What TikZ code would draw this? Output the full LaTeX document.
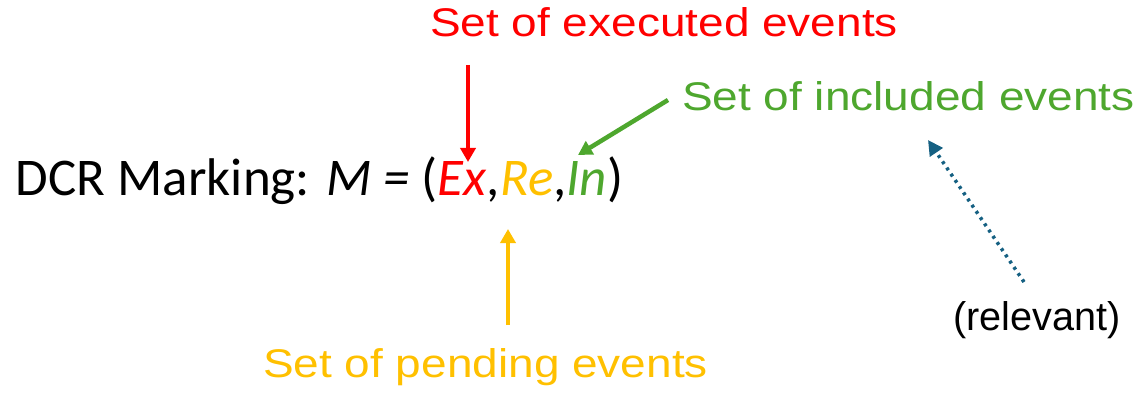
\documentclass[tikz,border=0pt]{standalone}
\usepackage{fontspec}
\setmainfont{Carlito}
\newfontfamily\lblfont[FakeStretch=1.15]{Liberation Sans}
\newfontfamily\relfont[FakeStretch=0.99]{Liberation Sans}
\usetikzlibrary{arrows.meta}
\definecolor{exred}{HTML}{FF0000}
\definecolor{reyel}{HTML}{FFC000}
\definecolor{ingreen}{HTML}{4EA72E}
\definecolor{relblue}{HTML}{156082}
\begin{document}
\begin{tikzpicture}[x=1pt,y=-1pt,
  every node/.style={inner sep=0pt, outer sep=0pt, anchor=base west},
  lbl/.style={font=\lblfont\fontsize{40}{46}\selectfont},
  rlbl/.style={font=\relfont\fontsize{40}{46}\selectfont},
  big/.style={font=\fontsize{53}{60}\selectfont},
  arr/.style={line width=4.5pt, -{Triangle[width=15pt,length=14pt]}},
  dotarr/.style={relblue, line width=3.5pt, dash pattern=on 3pt off 4.5pt, -{Triangle[width=15pt,length=15pt]}}]
\useasboundingbox (0,0) rectangle (1144,393);
% main formula
\node[big] (dcr) at (16,196) {DCR Marking: \textit{M = }(};
\node[big, text=exred] (ex) at (dcr.base east) {\textit{Ex}};
\node[big] (c1) at (ex.base east) {,};
\node[big, text=reyel] (re) at (c1.base east) {\textit{Re}};
\node[big] (c2) at (re.base east) {,};
\node[big, text=ingreen] (in) at (c2.base east) {\textit{In}};
\node[big] (cl) at (in.base east) {)};
% labels
\node[lbl, text=exred] (exlbl) at (430,37) {Set of executed events};
\node[lbl, text=ingreen] (inlbl) at (682,111) {Set of included events};
\node[lbl, text=reyel] (relbl) at (263,377) {Set of pending events};
\node[rlbl] (rel) at (953,330) {(relevant)};
% arrow end points
\coordinate (exa) at (468,65);
\coordinate (exb) at (468,162);
\coordinate (ina) at (668,100);
\coordinate (inb) at (578,155);
\coordinate (rea) at (508,325);
\coordinate (reb) at (508,229);
\coordinate (rla) at (1024,282);
\coordinate (rlb) at (928,140);
\draw[arr, exred] (exa) -- (exb);
\draw[arr, ingreen] (ina) -- (inb);
\draw[arr, reyel] (rea) -- (reb);
\draw[dotarr] (rla) -- (rlb);
\end{tikzpicture}
\end{document}
